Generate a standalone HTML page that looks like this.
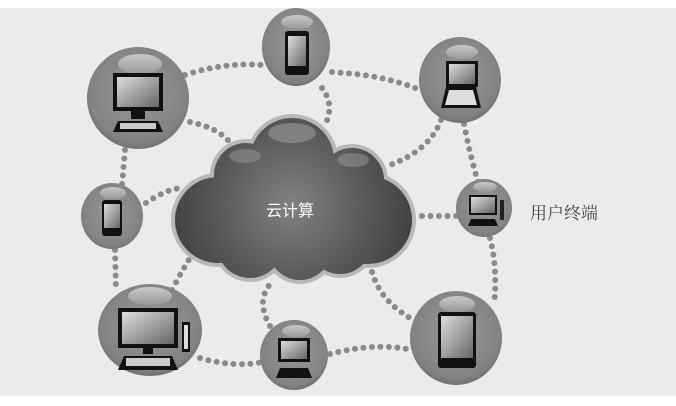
<!DOCTYPE html>
<html><head><meta charset="utf-8"><style>
html,body{margin:0;padding:0;background:#fff;}
svg{display:block}
</style></head><body>
<svg width="676" height="406" viewBox="0 0 676 406" xmlns="http://www.w3.org/2000/svg">
<defs>
<radialGradient id="cg" gradientUnits="userSpaceOnUse" cx="292" cy="205" r="130">
<stop offset="0" stop-color="#828282"/><stop offset="0.6" stop-color="#575757"/><stop offset="1" stop-color="#3e3e3e"/>
</radialGradient>
<radialGradient id="bg" cx="0.5" cy="0.45" r="0.6">
<stop offset="0" stop-color="#999"/><stop offset="0.8" stop-color="#828282"/><stop offset="1" stop-color="#666"/>
</radialGradient>
<linearGradient id="hl" x1="0" y1="0" x2="0" y2="1">
<stop offset="0" stop-color="#c8c8c8"/><stop offset="1" stop-color="#999"/>
</linearGradient>
<linearGradient id="scr" x1="0" y1="0" x2="1" y2="1">
<stop offset="0" stop-color="#ddd"/><stop offset="1" stop-color="#666"/>
</linearGradient>
</defs>
<rect x="0" y="8" width="676" height="388" fill="#ebebeb"/>
<g fill="none" stroke="#8a8a8a" stroke-width="6" stroke-linecap="round" stroke-dasharray="0 8.5">
<path d="M185,75 Q225,62 262,65"/>
<path d="M332,72 Q385,75 420,90"/>
<path d="M322,88 Q335,105 325,125"/>
<path d="M190,122 Q220,128 232,145"/>
<path d="M125,150 L122,185"/>
<path d="M146,203 Q165,190 180,188"/>
<path d="M441,120 Q430,150 390,165"/>
<path d="M464,124 Q470,155 478,182"/>
<path d="M456,216 L420,216"/>
<path d="M490,238 Q498,270 494,305"/>
<path d="M115,250 L116,292"/>
<path d="M172,290 Q185,265 192,255"/>
<path d="M200,358 Q235,368 262,362"/>
<path d="M270,326 Q255,300 272,282"/>
<path d="M330,354 Q375,342 412,350"/>
<path d="M372,272 Q380,300 410,318"/>
</g>
<g fill="#b8b8b8">
<circle cx="292" cy="160" r="46"/><circle cx="246" cy="175" r="36"/><circle cx="352" cy="180" r="36"/>
<circle cx="218" cy="220" r="47"/><circle cx="368" cy="220" r="48"/><circle cx="250" cy="245" r="37"/>
<circle cx="300" cy="248" r="36"/><circle cx="340" cy="242" r="36"/><ellipse cx="292" cy="210" rx="104" ry="54"/>
</g>
<g fill="url(#cg)">
<circle cx="292" cy="160" r="42"/><circle cx="246" cy="175" r="32"/><circle cx="352" cy="180" r="32"/>
<circle cx="218" cy="220" r="43"/><circle cx="368" cy="220" r="44"/><circle cx="250" cy="245" r="33"/>
<circle cx="300" cy="248" r="32"/><circle cx="340" cy="242" r="32"/><ellipse cx="292" cy="210" rx="100" ry="50"/>
</g>
<ellipse cx="292" cy="133" rx="24" ry="10" fill="#999" opacity="0.6"/>
<ellipse cx="245" cy="156" rx="16" ry="7" fill="#999" opacity="0.5"/>
<ellipse cx="353" cy="160" rx="16" ry="7" fill="#999" opacity="0.5"/>
<text x="290" y="216" font-family="Liberation Sans,Noto Sans CJK SC,sans-serif" font-size="16" fill="#fff" text-anchor="middle">云计算</text>

<g>
<ellipse cx="138" cy="98" rx="51" ry="51" fill="url(#bg)"/>
<ellipse cx="140" cy="64" rx="22" ry="10" fill="url(#hl)"/>
<rect x="113" y="73" width="50" height="38" fill="#111"/><rect x="117" y="77" width="42" height="30" fill="url(#scr)"/>
<rect x="131" y="111" width="14" height="8" fill="#111"/>
<polygon points="113,132 163,132 158,121 118,121" fill="#111"/><rect x="120" y="123" width="36" height="6" fill="#ccc"/>
</g>
<g>
<ellipse cx="296" cy="47" rx="34" ry="39" fill="url(#bg)"/>
<ellipse cx="297" cy="22" rx="16" ry="7" fill="url(#hl)"/>
<rect x="285" y="31" width="24" height="44" rx="3" fill="#111"/><rect x="288" y="36" width="18" height="30" fill="url(#scr)"/>
</g>
<g>
<ellipse cx="460" cy="80" rx="41" ry="43" fill="url(#bg)"/>
<ellipse cx="462" cy="52" rx="16" ry="7" fill="url(#hl)"/>
<rect x="446" y="61" width="32" height="26" fill="#111"/><rect x="449" y="64" width="26" height="20" fill="url(#scr)"/>
<polygon points="441,108 481,108 476,87 446,87" fill="#111"/><polygon points="445,105 477,105 473,90 449,90" fill="#ddd"/>
</g>
<g>
<ellipse cx="112" cy="216" rx="31" ry="33" fill="url(#bg)"/>
<ellipse cx="113" cy="193" rx="13" ry="6" fill="url(#hl)"/>
<rect x="102" y="200" width="20" height="36" rx="3" fill="#111"/><rect x="104" y="204" width="16" height="24" fill="url(#scr)"/>
</g>
<g>
<ellipse cx="484" cy="208" rx="28" ry="29" fill="url(#bg)"/>
<ellipse cx="485" cy="187" rx="12" ry="5" fill="url(#hl)"/>
<rect x="469" y="195" width="28" height="20" fill="#111"/><rect x="471" y="197" width="24" height="16" fill="url(#scr)"/>
<polygon points="468,226 498,226 495,219 471,219" fill="#111"/><rect x="500" y="200" width="4" height="20" fill="#222"/>
</g>
<g>
<ellipse cx="150" cy="330" rx="52" ry="46" fill="url(#bg)"/>
<ellipse cx="150" cy="296" rx="22" ry="9" fill="url(#hl)"/>
<rect x="118" y="308" width="60" height="40" fill="#111"/><rect x="122" y="312" width="52" height="32" fill="url(#scr)"/>
<rect x="143" y="348" width="10" height="6" fill="#111"/>
<polygon points="118,370 178,370 172,356 124,356" fill="#111"/><rect x="126" y="358" width="44" height="8" fill="#ccc"/>
<rect x="182" y="322" width="8" height="30" fill="#111"/><rect x="184" y="325" width="4" height="24" fill="#ddd"/>
</g>
<g>
<ellipse cx="294" cy="355" rx="34" ry="35" fill="url(#bg)"/>
<ellipse cx="296" cy="331" rx="14" ry="6" fill="url(#hl)"/>
<rect x="278" y="338" width="32" height="24" fill="#111"/><rect x="281" y="341" width="26" height="18" fill="url(#scr)"/>
<polygon points="276,378 312,378 308,368 280,368" fill="#111"/>
</g>
<g>
<ellipse cx="456" cy="338" rx="46" ry="47" fill="url(#bg)"/>
<ellipse cx="457" cy="304" rx="18" ry="8" fill="url(#hl)"/>
<rect x="438" y="312" width="38" height="56" rx="3" fill="#111"/><rect x="441" y="316" width="32" height="42" fill="url(#scr)"/>
</g>
<text x="530" y="219" font-family="Liberation Serif,Noto Serif CJK SC,serif" font-size="17" fill="#444">用户终端</text>
</svg>
</body></html>
